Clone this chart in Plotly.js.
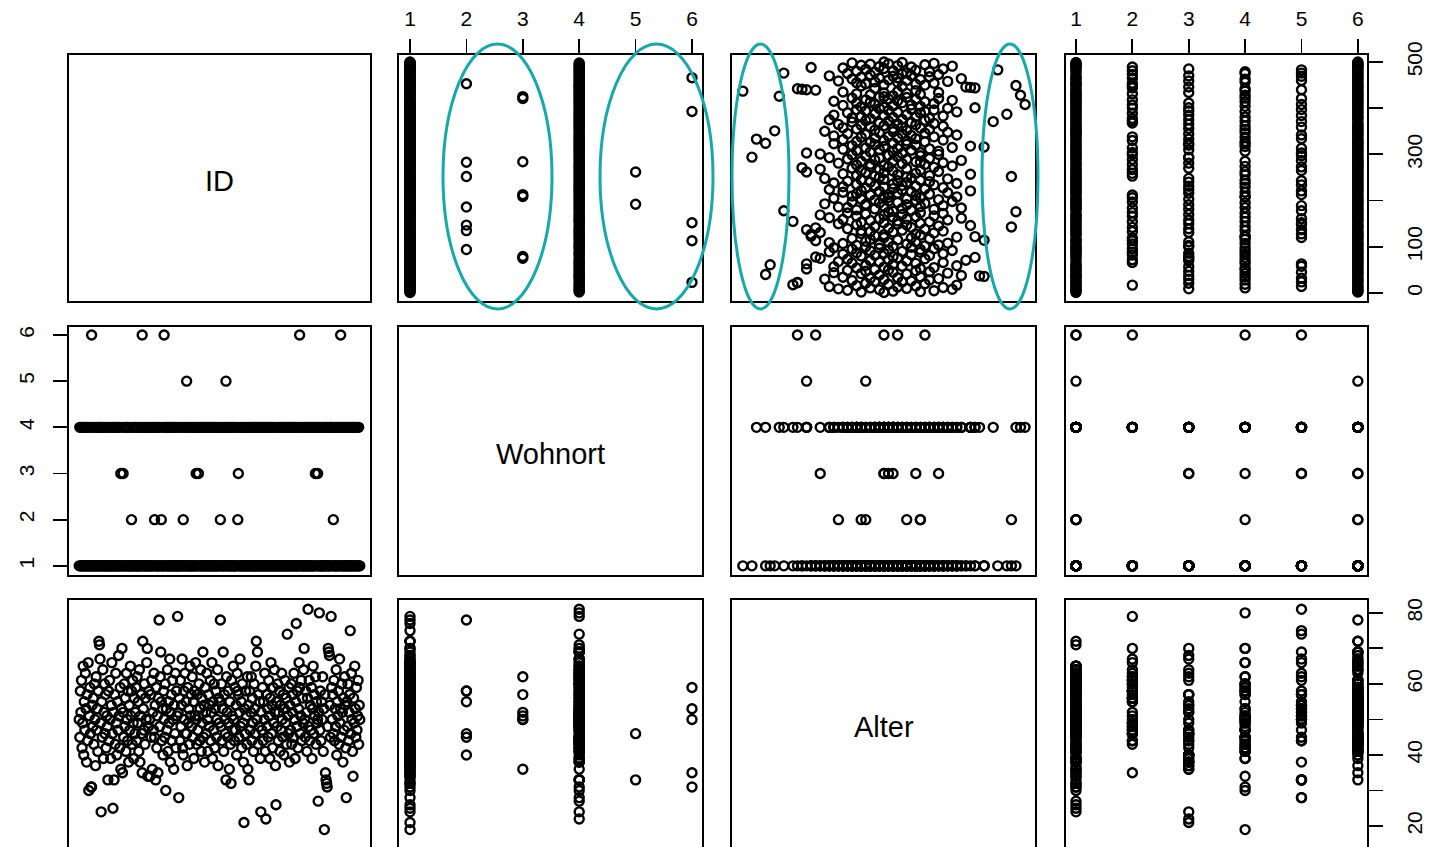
<!DOCTYPE html>
<html><head><meta charset="utf-8">
<script src="https://cdn.plot.ly/plotly-3.0.1.min.js"></script>
<style>html,body{margin:0;padding:0;background:#fff}#chart{width:1430px;height:847px}</style>
</head><body><div id="chart"></div>
<script>
const varNames = ['ID', 'Wohnort', 'Alter'];
const wohnortTicks = [1, 2, 3, 4, 5, 6];
const idTicks = [0, 100, 200, 300, 400, 500];
const idTickText = ['0', '100', '', '300', '', '500'];
const alterTicks = [20, 30, 40, 50, 60, 70, 80];
const alterTickText = ['20', '', '40', '', '60', '', '80'];

const id = [
1,2,3,4,5,6,7,8,9,10,11,12,13,14,15,16,17,18,19,20,21,22,23,24,25,
26,27,28,29,30,31,32,33,34,35,36,37,38,39,40,41,42,43,44,45,46,47,48,49,50,
51,52,53,54,55,56,57,58,59,60,61,62,63,64,65,66,67,68,69,70,71,72,73,74,75,
76,77,78,79,80,81,82,83,84,85,86,87,88,89,90,91,92,93,94,95,96,97,98,99,100,
101,102,103,104,105,106,107,108,109,110,111,112,113,114,115,116,117,118,119,120,121,122,123,124,125,
126,127,128,129,130,131,132,133,134,135,136,137,138,139,140,141,142,143,144,145,146,147,148,149,150,
151,152,153,154,155,156,157,158,159,160,161,162,163,164,165,166,167,168,169,170,171,172,173,174,175,
176,177,178,179,180,181,182,183,184,185,186,187,188,189,190,191,192,193,194,195,196,197,198,199,200,
201,202,203,204,205,206,207,208,209,210,211,212,213,214,215,216,217,218,219,220,221,222,223,224,225,
226,227,228,229,230,231,232,233,234,235,236,237,238,239,240,241,242,243,244,245,246,247,248,249,250,
251,252,253,254,255,256,257,258,259,260,261,262,263,264,265,266,267,268,269,270,271,272,273,274,275,
276,277,278,279,280,281,282,283,284,285,286,287,288,289,290,291,292,293,294,295,296,297,298,299,300,
301,302,303,304,305,306,307,308,309,310,311,312,313,314,315,316,317,318,319,320,321,322,323,324,325,
326,327,328,329,330,331,332,333,334,335,336,337,338,339,340,341,342,343,344,345,346,347,348,349,350,
351,352,353,354,355,356,357,358,359,360,361,362,363,364,365,366,367,368,369,370,371,372,373,374,375,
376,377,378,379,380,381,382,383,384,385,386,387,388,389,390,391,392,393,394,395,396,397,398,399,400,
401,402,403,404,405,406,407,408,409,410,411,412,413,414,415,416,417,418,419,420,421,422,423,424,425,
426,427,428,429,430,431,432,433,434,435,436,437,438,439,440,441,442,443,444,445,446,447,448,449,450,
451,452,453,454,455,456,457,458,459,460,461,462,463,464,465,466,467,468,469,470,471,472,473,474,475,
476,477,478,479,480,481,482,483,484,485,486,487,488,489,490,491,492,493,494,495,496,497,498,499,500];

const wohnort = [
1,4,1,1,4,1,4,1,1,4,1,1,4,1,1,4,1,1,4,1,1,1,6,4,1,
1,1,4,1,1,4,1,1,4,1,1,4,1,4,1,1,4,1,1,1,4,1,1,4,1,
1,1,4,1,1,4,1,1,1,4,1,1,4,1,1,4,1,1,4,1,1,4,1,1,3,
1,4,1,3,1,1,4,1,1,4,1,4,1,1,1,4,1,1,2,1,4,1,1,4,1,
4,1,1,4,1,1,4,1,1,1,4,1,6,1,4,1,1,4,1,1,1,4,1,1,4,
1,1,4,1,1,4,1,1,4,2,1,4,1,1,4,1,1,1,4,1,1,2,4,1,1,
1,6,1,4,4,1,1,4,1,1,4,1,1,4,1,1,4,1,1,4,1,1,4,1,1,
1,4,1,1,1,4,1,1,4,1,2,1,4,1,1,4,5,1,1,4,1,1,4,1,1,
1,4,1,1,4,1,1,4,3,1,1,4,3,1,4,1,1,4,1,1,4,1,1,4,1,
4,1,1,4,1,1,4,1,1,4,1,1,4,1,1,4,1,1,4,1,1,4,1,1,4,
1,2,1,4,1,1,4,1,1,4,1,5,1,4,1,1,4,1,1,4,1,1,4,1,1,
4,1,1,4,1,1,4,2,3,1,1,4,1,1,4,1,1,4,1,1,4,1,1,4,1,
1,1,4,1,1,4,1,1,4,1,1,4,1,1,4,1,1,4,1,1,4,1,1,4,1,
1,4,1,1,4,1,1,4,1,1,4,1,1,4,1,1,4,1,1,4,1,1,4,1,1,
1,1,4,1,1,4,1,1,4,1,1,4,1,1,4,1,1,4,1,1,4,1,1,4,1,
4,1,1,4,1,1,4,1,1,4,1,1,4,1,1,4,1,6,1,4,1,1,4,1,1,
1,4,1,1,4,1,1,4,1,1,4,1,1,4,1,1,4,1,1,4,3,1,4,1,3,
4,1,4,1,1,4,1,1,4,1,1,1,4,1,4,1,4,1,1,4,1,1,4,4,1,
4,1,2,1,4,1,1,4,1,1,4,1,1,4,1,6,4,1,1,4,1,1,4,1,1,
4,1,1,4,1,1,4,1,1,4,1,4,1,1,4,1,4,1,1,4,1,1,4,1,1];

const alter = [
50,45,58,52,61,42,49,65,40,55,47,63,53,38,57,44,66,30,51,59,46,31,31,54,48,
56,43,60,50,37,62,47,53,41,58,72,71,67,49,24,55,45,64,39,52,60,46,57,42,51,
48,33,58,44,61,50,39,54,66,46,25,52,33,57,43,63,49,40,55,47,68,51,42,59,36,
53,70,35,52,45,60,48,56,41,63,50,44,58,38,54,47,65,51,58,43,61,49,39,56,46,
52,59,44,62,49,55,41,64,38,51,57,46,35,72,53,47,60,43,56,50,66,70,34,48,58,
50,34,57,45,61,36,52,47,63,45,54,33,59,42,51,35,56,78,48,62,69,55,44,53,40,
58,50,45,60,30,53,47,64,41,55,49,67,38,52,57,44,61,50,36,54,46,63,42,58,51,
79,52,28,56,44,61,48,54,67,42,40,58,50,63,46,55,46,37,59,49,53,43,65,51,57,
48,62,45,55,39,58,51,66,50,43,57,47,51,60,44,53,64,41,56,49,69,45,54,38,59,
52,46,63,50,41,57,48,54,61,44,52,66,39,55,47,60,42,53,58,45,50,64,37,56,49,
55,78,48,60,44,53,69,41,57,50,46,33,62,52,45,58,49,36,55,43,32,61,51,47,65,
50,44,59,47,54,40,63,58,57,45,52,67,48,55,42,60,49,38,21,53,46,58,51,43,62,
36,54,33,58,47,52,62,44,56,49,41,60,53,46,65,72,50,69,43,57,48,55,39,24,52,
47,59,44,55,50,63,41,22,57,48,53,45,61,51,39,56,66,46,54,42,59,49,64,52,37,
26,55,48,60,44,52,58,41,54,47,63,50,45,57,40,53,61,49,56,43,74,51,46,59,38,
54,47,60,43,52,57,45,63,50,39,55,77,48,58,42,53,66,59,46,51,61,44,56,49,64,
70,50,45,58,52,41,56,81,48,61,44,54,47,59,39,53,65,46,57,51,62,43,55,49,50,
27,52,80,47,58,44,55,50,62,41,53,19,57,35,33,32,31,48,70,69,68,54,45,79,59,
50,57,46,61,44,53,48,64,40,55,51,58,43,67,49,53,45,60,52,38,56,47,62,54,42,
28,55,48,60,44,52,57,75,46,63,50,41,34,56,49,65,53,45,59,47,51,61,43,54,50];

// fourth variable (its own row/label lies below the visible area)
const var4 = [
1,6,6,6,1,1,6,1,3,6,4,1,6,5,1,6,2,1,4,6,3,1,1,5,6,
6,1,4,6,3,1,5,6,1,4,6,1,3,1,1,6,4,6,1,5,6,3,1,6,4,
1,1,6,4,1,6,3,5,6,1,1,6,5,4,6,2,1,6,4,3,6,2,1,6,3,
6,4,1,3,6,1,2,6,4,1,3,6,2,1,6,4,6,1,1,6,2,1,4,6,3,
1,6,3,1,6,2,4,6,1,6,3,1,2,1,6,4,1,6,2,5,6,4,4,1,6,
6,1,5,6,1,3,6,2,1,4,6,5,1,3,6,1,2,6,4,1,6,6,5,1,3,
1,5,6,2,4,6,1,3,6,1,5,6,1,4,6,2,1,6,1,3,6,1,4,2,6,
null,6,5,1,6,3,1,6,2,4,1,6,1,5,6,3,1,6,1,4,6,2,1,6,1,
6,1,3,6,1,2,6,4,4,1,6,2,5,1,6,3,1,4,6,1,5,6,1,3,6,
1,6,1,4,6,3,1,6,5,1,6,4,1,6,3,1,6,5,4,1,6,1,3,6,1,
6,null,2,1,6,4,6,1,2,6,1,6,4,1,5,6,2,1,6,3,1,6,5,4,6,
1,6,2,1,6,3,1,6,6,4,6,5,1,2,6,1,6,3,3,1,6,5,1,6,2,
1,6,5,2,1,6,4,1,6,3,1,6,5,2,1,6,4,6,1,3,6,1,4,3,6,
6,1,4,6,2,1,6,3,5,1,6,4,2,1,6,1,5,6,3,1,6,4,1,6,1,
1,6,1,4,6,3,1,6,5,1,6,4,1,6,3,1,6,2,1,6,5,4,2,1,3,
6,1,2,6,1,4,6,1,5,3,6,null,1,2,6,1,6,4,3,1,6,5,1,6,2,
3,1,6,4,1,6,2,5,1,6,3,1,6,4,1,6,1,2,6,1,5,4,6,1,6,
1,6,4,1,6,2,1,6,3,1,6,4,1,6,5,1,4,6,2,6,3,1,6,2,1,
6,1,1,2,6,4,1,6,3,5,1,6,4,6,2,1,1,6,5,3,6,1,2,6,4,
5,6,1,4,6,2,1,5,6,3,1,6,1,2,6,1,6,1,6,1,6,1,6,1,6];

if (id.length !== wohnort.length || id.length !== alter.length || id.length !== var4.length) {
  throw new Error('length mismatch ' + [id.length, wohnort.length, alter.length, var4.length].join(','));
}

const W = 1430, H = 847;
const px = v => v / W;
const py = v => 1 - v / H;
const colPx = [[68, 371], [398, 703], [731, 1036], [1065, 1368]];
const rowPx = [[54, 302], [326, 576], [599, 849]];
const colData = [id, wohnort, alter, var4];
const rowData = [id, wohnort, alter];
const colRange = [[-18.96, 519.96], [0.787, 6.195], [16.4, 83.4], [0.805, 6.18]];
const rowRange = [[-19.5, 517.3], [0.78, 6.195], [14.1, 83.9]];

const traces = [];
for (let r = 0; r < 3; r++) {
  for (let c = 0; c < 4; c++) {
    if (r === c) continue;
    traces.push({
      type: 'scatter', mode: 'markers',
      x: colData[c], y: rowData[r],
      xaxis: 'x' + (c === 0 ? '' : c + 1),
      yaxis: 'y' + (r === 0 ? '' : r + 1),
      marker: { symbol: 'circle-open', size: 9, color: '#000', line: { color: '#000', width: 2.4 } },
      hoverinfo: 'skip', showlegend: false
    });
  }
}

const font = { family: 'Liberation Sans, Arial, sans-serif', color: '#000' };
const tickFont = Object.assign({}, font, { size: 21 });
const layout = {
  width: W, height: H, margin: { l: 0, r: 0, t: 0, b: 0 },
  paper_bgcolor: '#fff', plot_bgcolor: 'rgba(0,0,0,0)', showlegend: false,
  shapes: [], annotations: []
};
const baseAx = { showgrid: false, zeroline: false, showline: false, fixedrange: true, automargin: false };
for (let c = 0; c < 4; c++) {
  const key = 'xaxis' + (c === 0 ? '' : c + 1);
  const ax = Object.assign({}, baseAx, { domain: [px(colPx[c][0]), px(colPx[c][1])], range: colRange[c] });
  if (c === 1 || c === 3) {
    Object.assign(ax, { side: 'top', anchor: 'y', ticks: 'outside', ticklen: 14, tickwidth: 1.8, tickcolor: '#000',
      tickvals: wohnortTicks, ticktext: wohnortTicks.map(String), tickfont: tickFont, ticklabelstandoff: 5 });
  } else {
    Object.assign(ax, { showticklabels: false, ticks: '', anchor: 'y3' });
  }
  layout[key] = ax;
}
for (let r = 0; r < 3; r++) {
  const key = 'yaxis' + (r === 0 ? '' : r + 1);
  const ax = Object.assign({}, baseAx, { domain: [py(rowPx[r][1]), py(rowPx[r][0])], range: rowRange[r],
    ticks: 'outside', ticklen: 14, tickwidth: 1.8, tickcolor: '#000', tickfont: tickFont, tickangle: -90 });
  if (r === 0) Object.assign(ax, { side: 'right', anchor: 'x4', tickvals: idTicks, ticktext: idTickText, ticklabelstandoff: 14 });
  if (r === 1) Object.assign(ax, { side: 'left', anchor: 'x', tickvals: wohnortTicks, ticktext: wohnortTicks.map(String), ticklabelstandoff: 11 });
  if (r === 2) Object.assign(ax, { side: 'right', anchor: 'x4', tickvals: alterTicks, ticktext: alterTickText, ticklabelstandoff: 14 });
  layout[key] = ax;
}
// panel frames
for (let r = 0; r < 3; r++) {
  for (let c = 0; c < 4; c++) {
    layout.shapes.push({ type: 'rect', xref: 'paper', yref: 'paper',
      x0: px(colPx[c][0]), x1: px(colPx[c][1]), y0: py(rowPx[r][1]), y1: py(rowPx[r][0]),
      line: { color: '#000', width: 2 }, fillcolor: 'rgba(0,0,0,0)', layer: 'above' });
  }
}
// diagonal labels
for (let i = 0; i < 3; i++) {
  layout.annotations.push({ xref: 'paper', yref: 'paper', showarrow: false,
    x: px((colPx[i][0] + colPx[i][1]) / 2), y: py((rowPx[i][0] + rowPx[i][1]) / 2 + 3),
    xanchor: 'center', yanchor: 'middle', text: varNames[i], font: Object.assign({}, font, { size: 29 }) });
}
// highlight ellipses
const ellipses = [[443, 552], [600, 713], [732, 789], [982, 1038]];
ellipses.forEach(e => layout.shapes.push({ type: 'circle', xref: 'paper', yref: 'paper',
  x0: px(e[0]), x1: px(e[1]), y0: py(309), y1: py(44), line: { color: '#17A8AA', width: 3 }, layer: 'above' }));

Plotly.newPlot('chart', traces, layout, { staticPlot: true, displayModeBar: false });
</script></body></html>
